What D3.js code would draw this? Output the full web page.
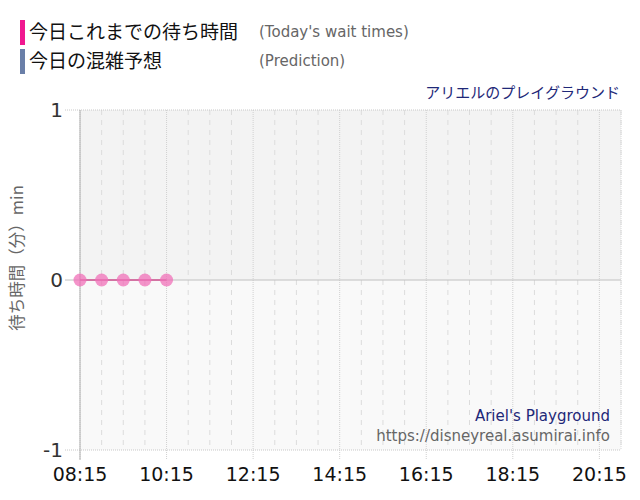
<!DOCTYPE html>
<html>
<head>
<meta charset="utf-8">
<script src="https://cdn.jsdelivr.net/npm/d3@7"></script>
<style>
  body { margin: 0; background: #fff; }
  svg { display: block; font-family: Verdana, "DejaVu Sans", "Noto Sans CJK JP", sans-serif; }
</style>
</head>
<body>
<svg id="chart" width="640" height="500"></svg>
<script>
// data
const waitTimes = ["08:15", "08:45", "09:15", "09:45", "10:15"];
const waitValues = [0, 0, 0, 0, 0];
const xTickLabels = ["08:15", "10:15", "12:15", "14:15", "16:15", "18:15", "20:15"];
const yTickValues = [-1, 0, 1];
const legendNames = ["今日これまでの待ち時間", "今日の混雑予想"];
const legendSubs = ["(Today's wait times)", "(Prediction)"];
const legendColors = ["#f01890", "#6a7fa8"];

const margin = {top: 110, right: 19, bottom: 50, left: 80},
      width = 640 - margin.left - margin.right,
      height = 500 - margin.top - margin.bottom;

const parse = d3.timeParse("%H:%M");
const start = parse("08:15"), end = parse("20:45");

var x = d3.scaleTime()
    .domain([start, end])
    .range([0, width]);

var y = d3.scaleLinear()
    .domain([-1, 1])
    .range([height, 0]);

var svg = d3.select("svg#chart");

var g = svg.append("g")
    .attr("transform", "translate(" + margin.left + "," + margin.top + ")");

// background, upper and lower half
g.append("rect")
    .attr("width", width)
    .attr("height", y(0))
    .attr("fill", "#f3f3f3");
g.append("rect")
    .attr("y", y(0))
    .attr("width", width)
    .attr("height", height - y(0))
    .attr("fill", "#f9f9f9");

// minor half hour lines (offset from 08:15)
var minor = d3.range(1, 26)
    .filter(k => k % 4 !== 0)
    .map(k => d3.timeMinute.offset(start, k * 30));
g.selectAll(".minor")
    .data(minor)
    .enter()
  .append("line")
    .attr("class", "minor")
    .attr("x1", d => x(d)).attr("x2", d => x(d))
    .attr("y1", 0).attr("y2", height)
    .attr("stroke", "#dcdcdc")
    .attr("stroke-dasharray", "5,5");

// major lines every 2 hours
var major = xTickLabels.map(parse);
g.selectAll(".major")
    .data(major)
    .enter()
  .append("line")
    .attr("class", "major")
    .attr("x1", d => x(d)).attr("x2", d => x(d))
    .attr("y1", 0).attr("y2", height + 10)
    .attr("stroke", "#d0d0d0")
    .attr("stroke-dasharray", "1,1");

// horizontal grid
g.append("line")
    .attr("x1", -15).attr("x2", width)
    .attr("y1", y(1)).attr("y2", y(1))
    .attr("stroke", "#c8c8c8")
    .attr("stroke-dasharray", "1,1");
g.append("line")
    .attr("x1", -15).attr("x2", width)
    .attr("y1", y(-1)).attr("y2", y(-1))
    .attr("stroke", "#c8c8c8")
    .attr("stroke-dasharray", "1,1");
g.append("line")
    .attr("x1", -15).attr("x2", width)
    .attr("y1", y(0)).attr("y2", y(0))
    .attr("stroke", "#c0c0c0");

// right edge
g.append("line")
    .attr("x1", width).attr("x2", width)
    .attr("y1", 0).attr("y2", height)
    .attr("stroke", "#d8d8d8")
    .attr("stroke-dasharray", "1,1");

// y axis line
g.append("line")
    .attr("x1", 0).attr("x2", 0)
    .attr("y1", 0).attr("y2", height + 10)
    .attr("stroke", "#b0b0b0");

// y tick labels
g.selectAll(".ylab")
    .data(yTickValues)
    .enter()
  .append("text")
    .attr("class", "ylab")
    .attr("x", -17)
    .attr("y", d => y(d))
    .attr("dy", "0.35em")
    .attr("text-anchor", "end")
    .attr("font-size", 20)
    .attr("fill", "#333")
    .text(d => d);

// x tick labels
g.selectAll(".xlab")
    .data(xTickLabels)
    .enter()
  .append("text")
    .attr("class", "xlab")
    .attr("x", d => x(parse(d)))
    .attr("y", height + 31)
    .attr("text-anchor", "middle")
    .attr("font-size", 19)
    .attr("fill", "#111")
    .text(d => d);

// series
var line = d3.line()
    .x(d => x(parse(d.t)))
    .y(d => y(d.v));
var pts = waitTimes.map((t, i) => ({t: t, v: waitValues[i]}));

g.append("path")
    .datum(pts)
    .attr("d", line)
    .attr("fill", "none")
    .attr("stroke", "#d05090")
    .attr("stroke-width", 1.5);

g.selectAll(".pt")
    .data(pts)
    .enter()
  .append("circle")
    .attr("class", "pt")
    .attr("cx", d => x(parse(d.t)))
    .attr("cy", d => y(d.v))
    .attr("r", 6.5)
    .attr("fill", "#f070b8")
    .attr("fill-opacity", 0.75);

// y axis title
svg.append("text")
    .attr("transform", "translate(23,258)rotate(-90)")
    .attr("text-anchor", "middle")
    .attr("font-size", 16.5)
    .attr("fill", "#666")
    .attr("font-family", "'Noto Sans CJK JP', sans-serif")
    .text("待ち時間（分）min");

// attraction name and credits
svg.append("text")
    .attr("x", 620).attr("y", 98)
    .attr("text-anchor", "end")
    .attr("font-size", 15)
    .attr("fill", "#1e2878")
    .attr("font-family", "'Noto Sans CJK JP', sans-serif")
    .text("アリエルのプレイグラウンド");
svg.append("text")
    .attr("x", 610).attr("y", 421)
    .attr("text-anchor", "end")
    .attr("font-size", 15)
    .attr("fill", "#1e2878")
    .text("Ariel's Playground");
svg.append("text")
    .attr("x", 610).attr("y", 441)
    .attr("text-anchor", "end")
    .attr("font-size", 15)
    .attr("fill", "#666")
    .text("https://disneyreal.asumirai.info");

// legend
var leg = svg.selectAll(".leg")
    .data(legendNames)
    .enter()
  .append("g")
    .attr("class", "leg")
    .attr("transform", (d, i) => "translate(20," + (20 + i * 29) + ")");
leg.append("rect")
    .attr("width", 5).attr("height", 25)
    .attr("fill", (d, i) => legendColors[i]);
leg.append("text")
    .attr("x", 9).attr("y", 19)
    .attr("font-size", 19)
    .attr("fill", "#111")
    .attr("font-family", "'Noto Sans CJK JP', sans-serif")
    .text(d => d);
leg.append("text")
    .attr("x", 239).attr("y", 17)
    .attr("font-size", 15)
    .attr("fill", "#666")
    .text((d, i) => legendSubs[i]);
</script>
</body>
</html>
